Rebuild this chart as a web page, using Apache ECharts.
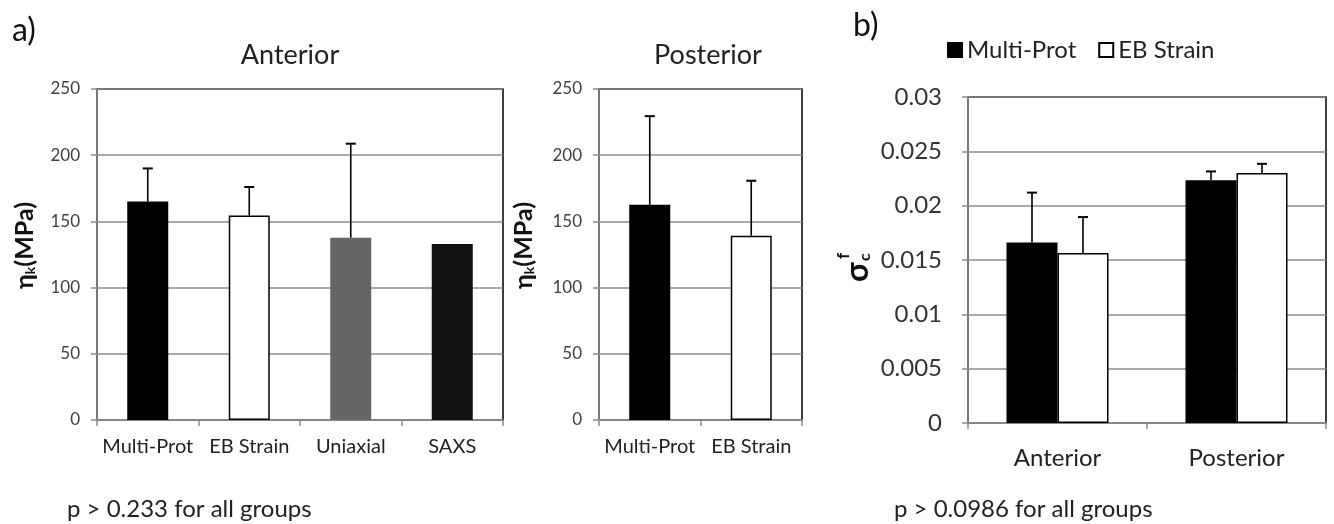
<!DOCTYPE html>
<html>
<head>
<meta charset="utf-8">
<script src="https://cdn.jsdelivr.net/npm/echarts@6/dist/echarts.min.js"></script>
<style>html,body{margin:0;padding:0;background:#fff}#c{width:1334px;height:524px}</style>
</head>
<body>
<div id="c"></div>
<script>
// ---- data ----
const antCategories = ['Multi-Prot', 'EB Strain', 'Uniaxial', 'SAXS'];
const antValues = [165, 154.5, 137.7, 133];
const antErrors = [25, 21.5, 71, 0];
const antColors = ['#000000', '#ffffff', '#666666', '#111111'];

const posCategories = ['Multi-Prot', 'EB Strain'];
const posValues = [162.5, 139.2];
const posErrors = [67, 41.5];
const posColors = ['#000000', '#ffffff'];

const bCategories = ['Anterior', 'Posterior'];
const multiProt = [0.0166, 0.02235];
const multiProtErr = [0.0046, 0.0008];
const ebStrain = [0.01565, 0.0230];
const ebStrainErr = [0.0033, 0.00085];

const yTicksA = [0, 50, 100, 150, 200, 250];
const yTicksB = [0, 0.005, 0.01, 0.015, 0.02, 0.025, 0.03];

const FONT = 'Lato';
const chart = echarts.init(document.getElementById('c'));

function errSeries(xi, yi, values, errors, offset) {
  return {
    type: 'custom', xAxisIndex: xi, yAxisIndex: yi, z: 5,
    data: values.map((v, i) => [i, v, errors[i]]),
    renderItem: function (params, api) {
      const i = api.value(0), v = api.value(1), e = api.value(2);
      if (!e) return null;
      const p0 = api.coord([i, v]);
      const p1 = api.coord([i, v + e]);
      const x = p0[0] + offset;
      const half = 5;
      return {
        type: 'group',
        children: [
          {type: 'line', shape: {x1: x, y1: p0[1], x2: x, y2: p1[1]}, style: {stroke: '#000', lineWidth: 1.6}},
          {type: 'line', shape: {x1: x - half, y1: p1[1], x2: x + half, y2: p1[1]}, style: {stroke: '#000', lineWidth: 2}}
        ]
      };
    }
  };
}

function yAxisA(gi, nameGap) {
  return {
    type: 'value', gridIndex: gi, min: yTicksA[0], max: yTicksA[yTicksA.length - 1], interval: 50,
    axisLine: {show: true, lineStyle: {color: '#8c8c8c', width: 1.5}},
    axisTick: {show: true, length: 6, lineStyle: {color: '#8c8c8c', width: 1.5}},
    axisLabel: {color: '#404040', fontFamily: FONT, fontSize: 17, margin: 17},
    splitLine: {show: true, lineStyle: {color: '#8c8c8c', width: 1.5}},
    name: '{a|η}{s|k}{a|(MPa)}', nameLocation: 'middle', nameGap: nameGap, nameRotate: 90,
    nameTextStyle: {
      padding: [0, 0, 0, 18],
      rich: {
        a: {fontFamily: FONT, fontSize: 25, fontWeight: 'bold', color: '#111'},
        s: {fontFamily: FONT, fontSize: 14, fontWeight: 'bold', color: '#111', verticalAlign: 'bottom', padding: [10, 0, 0, 0]}
      }
    }
  };
}
function xAxisCat(gi, cats, fontSize, margin) {
  return {
    type: 'category', gridIndex: gi, data: cats,
    axisLine: {show: true, lineStyle: {color: '#8c8c8c', width: 1.5}},
    axisTick: {show: true, length: 6, lineStyle: {color: '#8c8c8c', width: 1.5}},
    axisLabel: {interval: 0, color: '#222', fontFamily: FONT, fontSize: fontSize, margin: margin}
  };
}

const option = {
  animation: false,
  backgroundColor: '#fff',
  textStyle: {fontFamily: FONT},
  title: [
    {text: 'a)', left: 7, top: 10, textStyle: {fontFamily: FONT, fontSize: 32, fontWeight: 'normal', color: '#111'}},
    {text: 'b)', left: 848, top: 5, textStyle: {fontFamily: FONT, fontSize: 32, fontWeight: 'normal', color: '#111'}},
    {text: 'Anterior', left: 285, top: 37, textAlign: 'center', textStyle: {fontFamily: FONT, fontSize: 27, fontWeight: 'normal', color: '#222'}},
    {text: 'Posterior', left: 703, top: 37, textAlign: 'center', textStyle: {fontFamily: FONT, fontSize: 27, fontWeight: 'normal', color: '#222'}},
    {text: 'p > 0.233 for all groups', left: 62, top: 492, textStyle: {fontFamily: FONT, fontSize: 24, fontWeight: 'normal', color: '#222'}},
    {text: 'p > 0.0986 for all groups', left: 889, top: 492, textStyle: {fontFamily: FONT, fontSize: 24, fontWeight: 'normal', color: '#222'}}
  ],
  legend: {
    data: ['Multi-Prot', 'EB Strain'], left: 942, top: 33, itemWidth: 14, itemHeight: 14, itemGap: 22,
    icon: 'rect',
    textStyle: {fontFamily: FONT, fontSize: 24, color: '#222', padding: [0, 0, 0, 0]}
  },
  grid: [
    {left: 97, top: 89, width: 406, height: 331, show: true, borderColor: '#000', borderWidth: 1.5, backgroundColor: 'transparent'},
    {left: 599, top: 89, width: 203, height: 331, show: true, borderColor: '#000', borderWidth: 1.5, backgroundColor: 'transparent'},
    {left: 968, top: 97, width: 358, height: 326, show: true, borderColor: '#000', borderWidth: 1.5, backgroundColor: 'transparent'}
  ],
  xAxis: [
    xAxisCat(0, antCategories, 20, 17),
    xAxisCat(1, posCategories, 20, 17),
    xAxisCat(2, bCategories, 24, 23)
  ],
  yAxis: [
    yAxisA(0, 60),
    yAxisA(1, 63),
    {
      type: 'value', gridIndex: 2, min: yTicksB[0], max: yTicksB[yTicksB.length - 1], interval: 0.005,
      axisLine: {show: true, lineStyle: {color: '#8c8c8c', width: 1.5}},
      axisTick: {show: true, length: 6, lineStyle: {color: '#8c8c8c', width: 1.5}},
      axisLabel: {color: '#333', fontFamily: FONT, fontSize: 24, margin: 26},
      splitLine: {show: true, lineStyle: {color: '#8c8c8c', width: 1.5}}
    }
  ],
  graphic: [
    {
      type: 'group', x: 858, y: 266, rotation: Math.PI / 2,
      children: [
        {type: 'text', x: -16, y: 0, style: {text: 'σ', font: 'bold 32px ' + FONT, fill: '#111', textAlign: 'left', textVerticalAlign: 'middle'}},
        {type: 'text', x: 5, y: 7, style: {text: 'c', font: 'bold 16px ' + FONT, fill: '#111', textAlign: 'left', textVerticalAlign: 'middle'}},
        {type: 'text', x: 7, y: -14, style: {text: 'f', font: 'bold 17px ' + FONT, fill: '#111', textAlign: 'left', textVerticalAlign: 'middle'}}
      ]
    }
  ],
  series: [
    {
      type: 'bar', xAxisIndex: 0, yAxisIndex: 0, barWidth: 41,
      data: antValues.map((v, i) => ({value: v, itemStyle: {color: antColors[i], borderColor: antColors[i] === '#ffffff' ? '#000' : antColors[i], borderWidth: 1.5}}))
    },
    errSeries(0, 0, antValues, antErrors, 0),
    {
      type: 'bar', xAxisIndex: 1, yAxisIndex: 1, barWidth: 41,
      data: posValues.map((v, i) => ({value: v, itemStyle: {color: posColors[i], borderColor: posColors[i] === '#ffffff' ? '#000' : posColors[i], borderWidth: 1.5}}))
    },
    errSeries(1, 1, posValues, posErrors, 0),
    {
      name: 'Multi-Prot', type: 'bar', xAxisIndex: 2, yAxisIndex: 2, barWidth: 51, barGap: '0%',
      data: multiProt, itemStyle: {color: '#000', borderColor: '#000', borderWidth: 1.5}
    },
    {
      name: 'EB Strain', type: 'bar', xAxisIndex: 2, yAxisIndex: 2, barWidth: 51, barGap: '0%',
      data: ebStrain, itemStyle: {color: '#fff', borderColor: '#000', borderWidth: 1.5}
    },
    errSeries(2, 2, multiProt, multiProtErr, -25.5),
    errSeries(2, 2, ebStrain, ebStrainErr, 25.5)
  ]
};
chart.setOption(option);
</script>
</body>
</html>
